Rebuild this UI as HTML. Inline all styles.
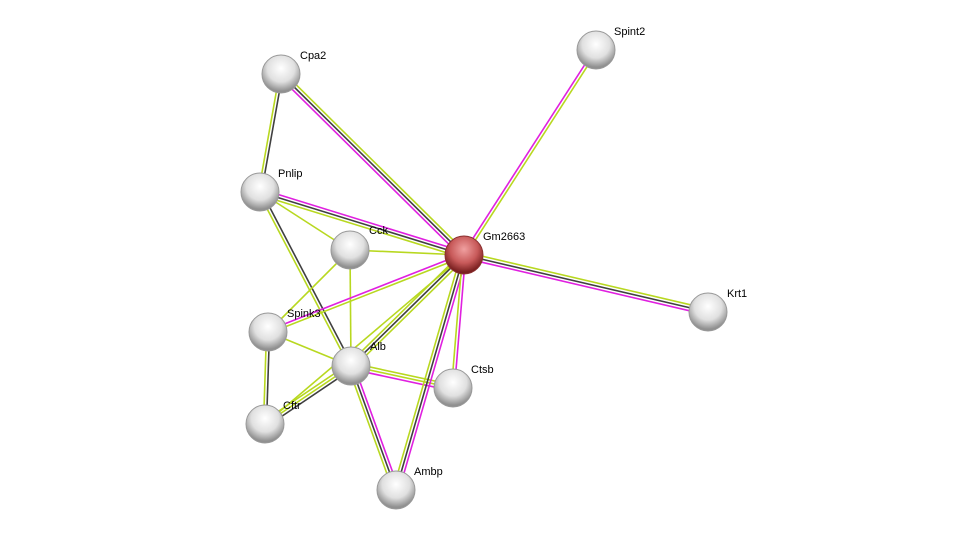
<!DOCTYPE html>
<html><head><meta charset="utf-8"><style>
html,body{margin:0;padding:0;background:#fff;width:976px;height:535px;overflow:hidden}
svg text{font-family:"Liberation Sans",sans-serif;font-size:11px;fill:#000}
</style></head><body>
<svg id="s" width="976" height="535" xmlns="http://www.w3.org/2000/svg">
<defs>
<radialGradient id="g" cx="50%" cy="35%" r="60%">
<stop offset="0" stop-color="#ffffff"/><stop offset="0.6" stop-color="#e0e0e0"/><stop offset="1" stop-color="#909090"/></radialGradient>
<radialGradient id="r" cx="50%" cy="35%" r="60%">
<stop offset="0" stop-color="#f0a0a0"/><stop offset="0.6" stop-color="#c85a5a"/><stop offset="1" stop-color="#7a2020"/></radialGradient>
</defs>
<g id="edges"></g><g id="nodes"></g>
</svg>
<script>
var N={Cpa2:[281,74],Spint2:[596,50],Pnlip:[260,192],Cck:[350,250],Gm2663:[464,255],Krt1:[708,312],Spink3:[268,332],Alb:[351,366],Ctsb:[453,388],Cftr:[265,424],Ambp:[396,490]};
var C={m:"#e020e0",k:"#404040",y:"#b8d820"};
var E=[["Cpa2","Gm2663","ykm"],["Cpa2","Pnlip","ky"],["Spint2","Gm2663","ym"],["Gm2663","Krt1","ykm"],["Pnlip","Gm2663","mky"],["Pnlip","Cck","y"],["Pnlip","Alb","ky"],["Cck","Gm2663","y"],["Cck","Alb","y"],["Cck","Spink3","y"],["Spink3","Gm2663","my"],["Spink3","Alb","y"],["Spink3","Cftr","ky"],["Alb","Gm2663","yky"],["Alb","Ctsb","yym"],["Alb","Cftr","kyy"],["Alb","Ambp","mky"],["Gm2663","Ambp","mky"],["Gm2663","Ctsb","my"],["Gm2663","Cftr","y"]];
var ns="http://www.w3.org/2000/svg",eg=document.getElementById("edges"),ng=document.getElementById("nodes");
E.forEach(function(e){var a=N[e[0]],b=N[e[1]],dx=b[0]-a[0],dy=b[1]-a[1],L=Math.hypot(dx,dy),px=-dy/L,py=dx/L,n=e[2].length;
for(var i=0;i<n;i++){var o=(i-(n-1)/2)*3;var l=document.createElementNS(ns,"line");
l.setAttribute("x1",a[0]+px*o);l.setAttribute("y1",a[1]+py*o);l.setAttribute("x2",b[0]+px*o);l.setAttribute("y2",b[1]+py*o);
l.setAttribute("stroke",C[e[2][i]]);l.setAttribute("stroke-width","1.6");eg.appendChild(l);}});
var lab={Cpa2:[300,55],Spint2:[614,31],Pnlip:[278,173],Cck:[369,230],Gm2663:[483,236],Krt1:[727,293],Spink3:[287,313],Alb:[370,346],Ctsb:[471,369],Cftr:[283,405],Ambp:[414,471]};
for(var k in N){var p=N[k];var c=document.createElementNS(ns,"circle");c.setAttribute("cx",p[0]);c.setAttribute("cy",p[1]);c.setAttribute("r",19);
c.setAttribute("fill",k=="Gm2663"?"url(#r)":"url(#g)");c.setAttribute("stroke",k=="Gm2663"?"#8a3030":"#999");c.setAttribute("stroke-width","1");ng.appendChild(c);
var t=document.createElementNS(ns,"text");t.setAttribute("x",lab[k][0]);t.setAttribute("y",lab[k][1]+4);t.textContent=k;ng.appendChild(t);}
</script>
</body></html>
